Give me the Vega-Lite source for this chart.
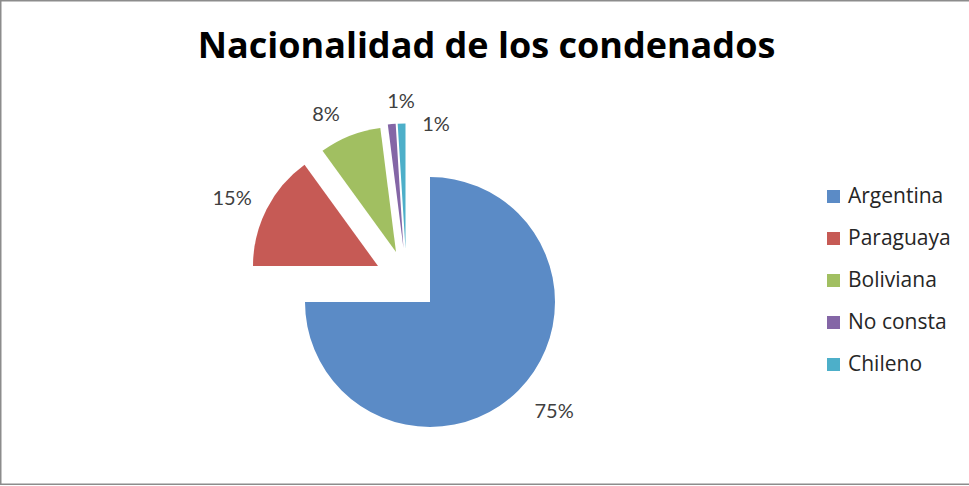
{
  "$schema": "https://vega.github.io/schema/vega-lite/v6.json",
  "width": 971,
  "height": 485,
  "autosize": "none",
  "padding": 0,
  "background": "white",
  "view": {"stroke": "#8c8c8c", "strokeWidth": 3},
  "title": {
    "text": "Nacionalidad de los condenados",
    "font": "Open Sans",
    "fontSize": 36,
    "fontWeight": "bold",
    "color": "#000000",
    "anchor": "middle",
    "offset": -66,
    "dx": 1
  },
  "data": {
    "values": [
      {"Nacionalidad": "Argentina", "valor": 0.75, "orden": 1},
      {"Nacionalidad": "Paraguaya", "valor": 0.15, "orden": 2},
      {"Nacionalidad": "Boliviana", "valor": 0.08, "orden": 3},
      {"Nacionalidad": "No consta", "valor": 0.01, "orden": 4},
      {"Nacionalidad": "Chileno", "valor": 0.01, "orden": 5}
    ]
  },
  "encoding": {
    "theta": {"field": "valor", "type": "quantitative", "stack": true},
    "order": {"field": "orden", "type": "quantitative"}
  },
  "layer": [
    {
      "mark": {"type": "arc", "radius": 125, "xOffset": -55.5, "yOffset": 59.5},
      "encoding": {
        "color": {"field": "Nacionalidad", "type": "nominal", "sort": ["Argentina", "Paraguaya", "Boliviana", "No consta", "Chileno"], "scale": {"domain": ["Argentina", "Paraguaya", "Boliviana", "No consta", "Chileno"], "range": ["#5B8BC6", "#C65A55", "#A1BF61", "#8466A6", "#4DAFC9"]}, "legend": {"title": null}},
        "opacity": {"condition": {"test": "datum.Nacionalidad === 'Argentina'", "value": 1}, "value": 0}
      }
    },
    {
      "mark": {"type": "arc", "radius": 125, "xOffset": -107.5, "yOffset": 23.5},
      "encoding": {
        "color": {"field": "Nacionalidad", "type": "nominal", "sort": ["Argentina", "Paraguaya", "Boliviana", "No consta", "Chileno"], "legend": {"title": null}},
        "opacity": {"condition": {"test": "datum.Nacionalidad === 'Paraguaya'", "value": 1}, "value": 0}
      }
    },
    {
      "mark": {"type": "arc", "radius": 125, "xOffset": -89.5, "yOffset": 9.5},
      "encoding": {
        "color": {"field": "Nacionalidad", "type": "nominal", "sort": ["Argentina", "Paraguaya", "Boliviana", "No consta", "Chileno"], "legend": {"title": null}},
        "opacity": {"condition": {"test": "datum.Nacionalidad === 'Boliviana'", "value": 1}, "value": 0}
      }
    },
    {
      "mark": {"type": "arc", "radius": 125, "xOffset": -82, "yOffset": 6},
      "encoding": {
        "color": {"field": "Nacionalidad", "type": "nominal", "sort": ["Argentina", "Paraguaya", "Boliviana", "No consta", "Chileno"], "legend": {"title": null}},
        "opacity": {"condition": {"test": "datum.Nacionalidad === 'No consta'", "value": 1}, "value": 0}
      }
    },
    {
      "mark": {"type": "arc", "radius": 125, "xOffset": -80, "yOffset": 6},
      "encoding": {
        "color": {"field": "Nacionalidad", "type": "nominal", "sort": ["Argentina", "Paraguaya", "Boliviana", "No consta", "Chileno"], "legend": {"title": null}},
        "opacity": {"condition": {"test": "datum.Nacionalidad === 'Chileno'", "value": 1}, "value": 0}
      }
    },
    {
      "mark": {"type": "text", "radius": 160, "dx": -44.6, "dy": 56.4, "font": "Lato", "fontSize": 20, "color": "#404040"},
      "encoding": {
        "detail": {"field": "Nacionalidad", "type": "nominal"},
        "text": {"field": "valor", "type": "quantitative", "format": ".0%"},
        "opacity": {"condition": {"test": "datum.Nacionalidad === 'Argentina'", "value": 1}, "value": 0}
      }
    },
    {
      "mark": {"type": "text", "radius": 160, "dx": -110.9, "dy": 29.1, "font": "Lato", "fontSize": 20, "color": "#404040"},
      "encoding": {
        "detail": {"field": "Nacionalidad", "type": "nominal"},
        "text": {"field": "valor", "type": "quantitative", "format": ".0%"},
        "opacity": {"condition": {"test": "datum.Nacionalidad === 'Paraguaya'", "value": 1}, "value": 0}
      }
    },
    {
      "mark": {"type": "text", "radius": 160, "dx": -100.6, "dy": 21.3, "font": "Lato", "fontSize": 20, "color": "#404040"},
      "encoding": {
        "detail": {"field": "Nacionalidad", "type": "nominal"},
        "text": {"field": "valor", "type": "quantitative", "format": ".0%"},
        "opacity": {"condition": {"test": "datum.Nacionalidad === 'Boliviana'", "value": 1}, "value": 0}
      }
    },
    {
      "mark": {"type": "text", "radius": 160, "dx": -69.4, "dy": 18.8, "font": "Lato", "fontSize": 20, "color": "#404040"},
      "encoding": {
        "detail": {"field": "Nacionalidad", "type": "nominal"},
        "text": {"field": "valor", "type": "quantitative", "format": ".0%"},
        "opacity": {"condition": {"test": "datum.Nacionalidad === 'No consta'", "value": 1}, "value": 0}
      }
    },
    {
      "mark": {"type": "text", "radius": 160, "dx": -44.5, "dy": 42.4, "font": "Lato", "fontSize": 20, "color": "#404040"},
      "encoding": {
        "detail": {"field": "Nacionalidad", "type": "nominal"},
        "text": {"field": "valor", "type": "quantitative", "format": ".0%"},
        "opacity": {"condition": {"test": "datum.Nacionalidad === 'Chileno'", "value": 1}, "value": 0}
      }
    }
  ],
  "config": {
    "legend": {
      "orient": "none",
      "legendX": 823,
      "legendY": 186,
      "symbolType": "square",
      "symbolSize": 169,
      "symbolStrokeWidth": 0,
      "labelFont": "Open Sans",
      "labelFontSize": 21,
      "labelColor": "#262626",
      "rowPadding": 20,
      "labelOffset": 4
    }
  }
}
